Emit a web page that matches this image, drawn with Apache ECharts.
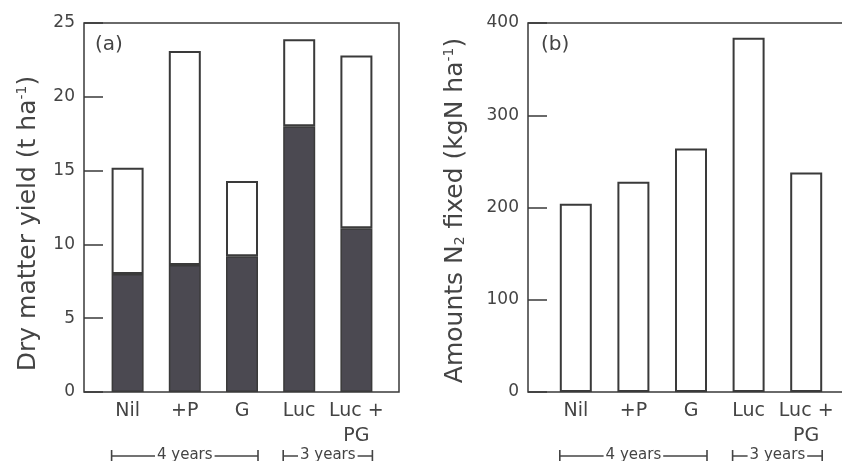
<!DOCTYPE html>
<html>
<head>
<meta charset="utf-8">
<script src="https://cdn.jsdelivr.net/npm/echarts@6/dist/echarts.min.js"></script>
<style>
  html, body { margin: 0; padding: 0; background: #fff; }
  #chart-container { width: 842px; height: 461px; }
</style>
</head>
<body>
<div id="chart-container"></div>
<script>
// treatments along the x axis
var cats = ['Nil', '+P', 'G', 'Luc', 'Luc +\nPG'];
// (a) dry matter yield, t/ha : dark = lower part, total = top of bar
var darkYield = [8.0, 8.6, 9.2, 18.0, 11.1];
var totalYield = [15.2, 23.1, 14.3, 23.9, 22.8];
// (b) N2 fixed, kgN/ha
var n2Fixed = [204, 228, 264, 384, 238];
// brackets under the categories
var periods = [
    { label: '4 years', from: 0, to: 2 },
    { label: '3 years', from: 3, to: 4 }
];

var upperYield = totalYield.map(function (t, i) {
    return +(t - darkYield[i]).toFixed(1);
});

var FONT = 'DejaVu Sans';
var INK = '#3a3a3a';
var TXT = '#444';
var BAR_W = 32;

var dom = document.getElementById('chart-container');
var myChart = echarts.init(dom, null, { renderer: 'canvas' });

function frameY(gi, max, interval, name, gap, pad) {
    return {
        gridIndex: gi, type: 'value', min: 0, max: max, interval: interval,
        name: name, nameLocation: 'middle', nameGap: gap, nameRotate: 90,
        nameTextStyle: {
            color: TXT, fontFamily: FONT, fontSize: 25, padding: pad,
            rich: {
                sup: { fontSize: 14, fontFamily: FONT, color: TXT, padding: [0, 0, 13, 0] },
                sub: { fontSize: 14, fontFamily: FONT, color: TXT, padding: [9, 0, 0, 0] }
            }
        },
        axisLine: { show: false },
        axisTick: { show: true, inside: true, length: 19, lineStyle: { color: INK, width: 1.5 } },
        axisLabel: { color: TXT, fontFamily: FONT, fontSize: 17, margin: 9 },
        splitLine: { show: false }
    };
}

function barX(gi) {
    return {
        gridIndex: gi, type: 'category', data: cats,
        axisLine: { show: false }, axisTick: { show: false },
        axisLabel: { color: TXT, fontFamily: FONT, fontSize: 19, lineHeight: 25, margin: 7, interval: 0 }
    };
}

var option = {
    animation: false,
    title: [
        { text: '(a)', left: 90, top: 30, textStyle: { fontFamily: FONT, fontSize: 20, fontWeight: 'normal', color: TXT } },
        { text: '(b)', left: 536, top: 30, textStyle: { fontFamily: FONT, fontSize: 20, fontWeight: 'normal', color: TXT } }
    ],
    grid: [
        { left: 84, top: 23, width: 315, height: 369, show: true, borderColor: INK, borderWidth: 1.5, backgroundColor: 'transparent', outerBoundsMode: 'none' },
        { left: 99, top: 23, width: 286, height: 369, outerBoundsMode: 'none' },
        { left: 528, top: 23, width: 318, height: 369, show: true, borderColor: INK, borderWidth: 1.5, backgroundColor: 'transparent', outerBoundsMode: 'none' },
        { left: 547, top: 23, width: 288, height: 369, outerBoundsMode: 'none' }
    ],
    xAxis: [
        { gridIndex: 0, type: 'value', min: 0, max: 1, show: false },
        barX(1),
        { gridIndex: 2, type: 'value', min: 0, max: 1, show: false },
        barX(3)
    ],
    yAxis: [
        frameY(0, 25, 5, 'Dry matter yield (t ha{sup|-1})', 42, [0, 32, 0, 0]),
        { gridIndex: 1, type: 'value', min: 0, max: 25, show: false },
        frameY(2, 400, 100, 'Amounts N{sub|2} fixed (kgN ha{sup|-1})', 59, [0, 6, 0, 0]),
        { gridIndex: 3, type: 'value', min: 0, max: 400, show: false }
    ],
    series: [
        {
            type: 'bar', xAxisIndex: 1, yAxisIndex: 1, stack: 'a', barWidth: BAR_W,
            data: darkYield,
            itemStyle: { color: '#4b4951', borderColor: INK, borderWidth: 1.5 }
        },
        {
            type: 'bar', xAxisIndex: 1, yAxisIndex: 1, stack: 'a', barWidth: BAR_W,
            data: upperYield,
            itemStyle: { color: '#fff', borderColor: INK, borderWidth: 2 }
        },
        {
            type: 'bar', xAxisIndex: 3, yAxisIndex: 3, barWidth: BAR_W,
            data: n2Fixed,
            itemStyle: { color: '#fff', borderColor: INK, borderWidth: 2 }
        }
    ]
};

myChart.setOption(option);

// period brackets below the category labels, placed from the bars' axis
function brackets(axisIdx) {
    var out = [];
    var y = 456;
    periods.forEach(function (p) {
        var x1 = myChart.convertToPixel({ xAxisIndex: axisIdx }, cats[p.from]) - BAR_W / 2;
        var x2 = myChart.convertToPixel({ xAxisIndex: axisIdx }, cats[p.to]) + BAR_W / 2;
        var ls = { stroke: '#444', lineWidth: 1.6 };
        out.push({ type: 'line', shape: { x1: x1, y1: y, x2: x2, y2: y }, style: ls });
        out.push({ type: 'line', shape: { x1: x1, y1: y - 6, x2: x1, y2: y + 6 }, style: ls });
        out.push({ type: 'line', shape: { x1: x2, y1: y - 6, x2: x2, y2: y + 6 }, style: ls });
        out.push({
            type: 'text', x: (x1 + x2) / 2, y: y - 1, z: 10,
            style: {
                text: p.label, fill: TXT, fontFamily: FONT, fontSize: 15,
                align: 'center', verticalAlign: 'middle',
                backgroundColor: '#fff', padding: [0, 2]
            }
        });
    });
    return out;
}

myChart.setOption({ graphic: brackets(1).concat(brackets(3)) });

window.addEventListener('resize', myChart.resize);
</script>
</body>
</html>
